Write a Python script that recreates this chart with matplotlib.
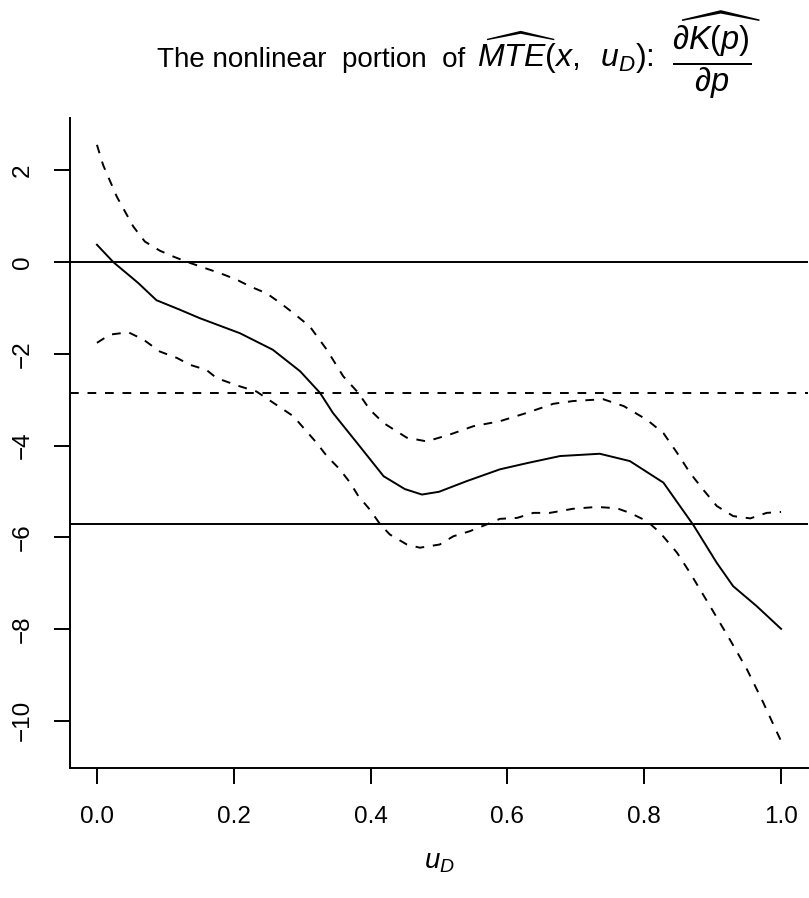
import numpy as np
import matplotlib
matplotlib.use("Agg")
import matplotlib.pyplot as plt

plt.rcParams["font.family"] = ["Liberation Sans", "DejaVu Sans"]
plt.rcParams["mathtext.fontset"] = "custom"
plt.rcParams["mathtext.rm"] = "Liberation Sans"
plt.rcParams["mathtext.it"] = "Liberation Sans:italic"
plt.rcParams["mathtext.bf"] = "Liberation Sans:bold"
plt.rcParams["lines.scale_dashes"] = False

# estimated curve
u_est = [0, 0.024, 0.06, 0.087, 0.12, 0.15, 0.209, 0.257, 0.297, 0.326, 0.345, 0.38,
         0.419, 0.45, 0.475, 0.50, 0.54, 0.589, 0.63, 0.677, 0.735, 0.779, 0.828, 0.872,
         0.906, 0.93, 0.964, 1.0]
est = [0.38, 0.0, -0.45, -0.83, -1.03, -1.22, -1.55, -1.91, -2.38, -2.85, -3.29, -3.94,
       -4.67, -4.95, -5.07, -5.01, -4.78, -4.52, -4.38, -4.23, -4.18, -4.34, -4.81, -5.74,
       -6.56, -7.07, -7.50, -8.0]

# upper band
u_hi = [0, 0.009, 0.029, 0.053, 0.07, 0.092, 0.112, 0.131, 0.158, 0.18, 0.204, 0.224,
        0.248, 0.268, 0.287, 0.311, 0.336, 0.36, 0.382, 0.399, 0.419, 0.453, 0.482, 0.516,
        0.55, 0.589, 0.628, 0.667, 0.696, 0.74, 0.77, 0.804, 0.828, 0.848, 0.867, 0.886,
        0.906, 0.93, 0.955, 0.979, 1.0]
hi = [2.56, 2.12, 1.43, 0.78, 0.45, 0.25, 0.12, 0.01, -0.13, -0.24, -0.38, -0.53,
      -0.68, -0.89, -1.11, -1.40, -1.91, -2.49, -2.85, -3.22, -3.51, -3.83, -3.91, -3.76,
      -3.58, -3.47, -3.29, -3.09, -3.03, -2.99, -3.14, -3.44, -3.73, -4.16, -4.60, -4.96,
      -5.32, -5.54, -5.59, -5.47, -5.45]

# lower band
u_lo = [0, 0.019, 0.046, 0.068, 0.092, 0.117, 0.136, 0.16, 0.175, 0.209, 0.233, 0.258,
        0.287, 0.304, 0.321, 0.336, 0.355, 0.37, 0.382, 0.399, 0.414, 0.428, 0.453, 0.472,
        0.501, 0.521, 0.545, 0.57, 0.589, 0.614, 0.638, 0.662, 0.696, 0.731, 0.76, 0.779,
        0.804, 0.823, 0.848, 0.867, 0.896, 0.925, 0.95, 0.974, 1.0]
lo = [-1.76, -1.58, -1.53, -1.69, -1.95, -2.09, -2.24, -2.35, -2.53, -2.71, -2.82, -3.07,
      -3.36, -3.65, -3.94, -4.23, -4.52, -4.81, -5.10, -5.40, -5.72, -5.94, -6.16, -6.23,
      -6.16, -5.98, -5.87, -5.72, -5.60, -5.58, -5.47, -5.47, -5.38, -5.34, -5.37, -5.47,
      -5.65, -5.90, -6.34, -6.78, -7.50, -8.23, -8.88, -9.61, -10.45]

# reference lines
h_solid = [0.0, -5.72]
h_dashed = [-2.86]

x_ticks = [0.0, 0.2, 0.4, 0.6, 0.8, 1.0]
y_ticks = [-10, -8, -6, -4, -2, 0, 2]

W, H = 809, 898
fig = plt.figure(figsize=(W / 100, H / 100), dpi=100)
ax = fig.add_axes([0.086, 0.1448, 0.9133, 0.7238])

dash = (0, (6.3, 6.3))
ax.plot(u_est, est, color="black", lw=1.4)
ax.plot(u_hi, hi, color="black", lw=1.4, linestyle=dash)
ax.plot(u_lo, lo, color="black", lw=1.4, linestyle=dash)
for h in h_solid:
    ax.axhline(h, color="black", lw=1.4)
for h in h_dashed:
    ax.axhline(h, color="black", lw=1.4, linestyle=dash)

ax.margins(x=0.04, y=0.045)

ax.set_xticks(x_ticks)
ax.set_xticklabels([f"{t:.1f}" for t in x_ticks])
ax.set_yticks(y_ticks)
ax.set_yticklabels([str(t).replace("-", "\u2212") for t in y_ticks], rotation=90, va="center")

for s in ["top", "right"]:
    ax.spines[s].set_visible(False)
for s in ["left", "bottom"]:
    ax.spines[s].set_linewidth(1.4)
ax.tick_params(direction="out", length=11.5, width=1.4, labelsize=17.5)
ax.tick_params(axis="y", pad=14)
ax.tick_params(axis="x", pad=16)

fig.text(439 / W, 1 - 862 / H, r"$u_D$", ha="center", va="center", fontsize=20)

# title, in pieces
fig.text(465 / W, 1 - 67 / H, "The nonlinear  portion  of", ha="right", va="baseline", fontsize=20)
fig.text(477 / W, 1 - 67 / H, r"$\widehat{MTE}(x,\;\; u_D)$:", ha="left", va="baseline", fontsize=23)
fig.text(717 / W, 1 - 55 / H, r"$\dfrac{\widehat{\partial K(p)}}{\partial p}$",
         ha="center", va="center", fontsize=23.5)

fig.savefig("out.png", dpi=100)
